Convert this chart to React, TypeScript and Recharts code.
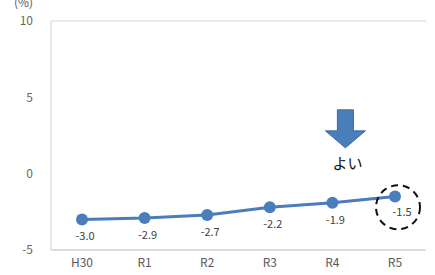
import {
  CartesianGrid,
  LabelList,
  Line,
  LineChart,
  ReferenceDot,
  XAxis,
  YAxis,
} from "recharts";

const years = ["H30", "R1", "R2", "R3", "R4", "R5"];
const rates = [-3.0, -2.9, -2.7, -2.2, -1.9, -1.5];
const yTicks = [-5, 0, 5, 10];

const data = years.map((name, i) => ({ name, value: rates[i] }));

const BLUE = "#4a7ebb";
const FONT = "'Noto Sans CJK JP', 'Noto Sans', sans-serif";

const ValueLabel = (props: any) => {
  const { x, y, value, index } = props;
  const last = index === rates.length - 1;
  return (
    <text
      x={x + (last ? 7 : 3)}
      y={y + (last ? 16 : 18)}
      textAnchor="middle"
      dominantBaseline="middle"
      fontSize={11}
      fontFamily={FONT}
      fill="#404040"
    >
      {value.toFixed(1)}
    </text>
  );
};

// down arrow + "よい" note, anchored near R4
const ArrowNote = ({ cx, cy }: { cx: number; cy: number }) => {
  const x = cx + 13;
  const top = cy - 18;
  return (
    <g>
      <path
        d={`M${x - 8},${top} L${x + 8},${top} L${x + 8},${top + 21} L${x + 20},${top + 21} L${x},${top + 38} L${x - 20},${top + 21} L${x - 8},${top + 21} Z`}
        fill={BLUE}
        stroke="#3a6aa0"
        strokeWidth={1}
      />
      <text
        x={x + 2}
        y={top + 55}
        textAnchor="middle"
        dominantBaseline="middle"
        fontSize={15}
        fontFamily={FONT}
        fill="#111"
      >
        よい
      </text>
    </g>
  );
};

export default function App() {
  return (
    <div style={{ position: "absolute", left: 0, top: 0, width: 435, height: 275 }}>
      <div
        style={{
          position: "absolute",
          left: 14,
          top: -5,
          fontSize: 12,
          lineHeight: "14px",
          fontFamily: FONT,
          color: "#595959",
        }}
      >
        (%)
      </div>
      <LineChart
        width={435}
        height={275}
        data={data}
        margin={{ top: 21, right: 9, left: 0, bottom: 0 }}
      >
        <CartesianGrid vertical={false} stroke="#d4d4d4" />
        <XAxis
          dataKey="name"
          height={25}
          padding={{ left: 31, right: 31 }}
          tickLine={false}
          axisLine={{ stroke: "#d0d0d0" }}
          tick={{ fontSize: 12, fill: "#595959", fontFamily: FONT }}
          tickMargin={2}
        />
        <YAxis
          yAxisId="left"
          domain={[-5, 10]}
          ticks={yTicks}
          width={51}
          tickLine={false}
          axisLine={{ stroke: "#d0d0d0" }}
          tick={{ fontSize: 12, fill: "#666", fontFamily: FONT }}
          tickMargin={12}
        />
        <YAxis
          yAxisId="right"
          orientation="right"
          width={0}
          tick={false}
          tickLine={false}
          axisLine={{ stroke: "#d0d0d0" }}
        />
        <Line
          yAxisId="left"
          dataKey="value"
          stroke={BLUE}
          strokeWidth={3}
          dot={{ r: 6, fill: BLUE, stroke: BLUE, strokeWidth: 0 }}
          isAnimationActive={false}
        >
          <LabelList dataKey="value" content={<ValueLabel />} />
        </Line>
        <ReferenceDot
          yAxisId="left"
          x="R5"
          y={-2.2}
          r={22}
          fill="none"
          stroke="#111"
          strokeWidth={2}
          strokeDasharray="7 5"
          transform="translate(3,0)"
        />
        <ReferenceDot
          yAxisId="left"
          x="R4"
          y={3}
          shape={(p: any) => <ArrowNote cx={p.cx} cy={p.cy} />}
        />
      </LineChart>
    </div>
  );
}
